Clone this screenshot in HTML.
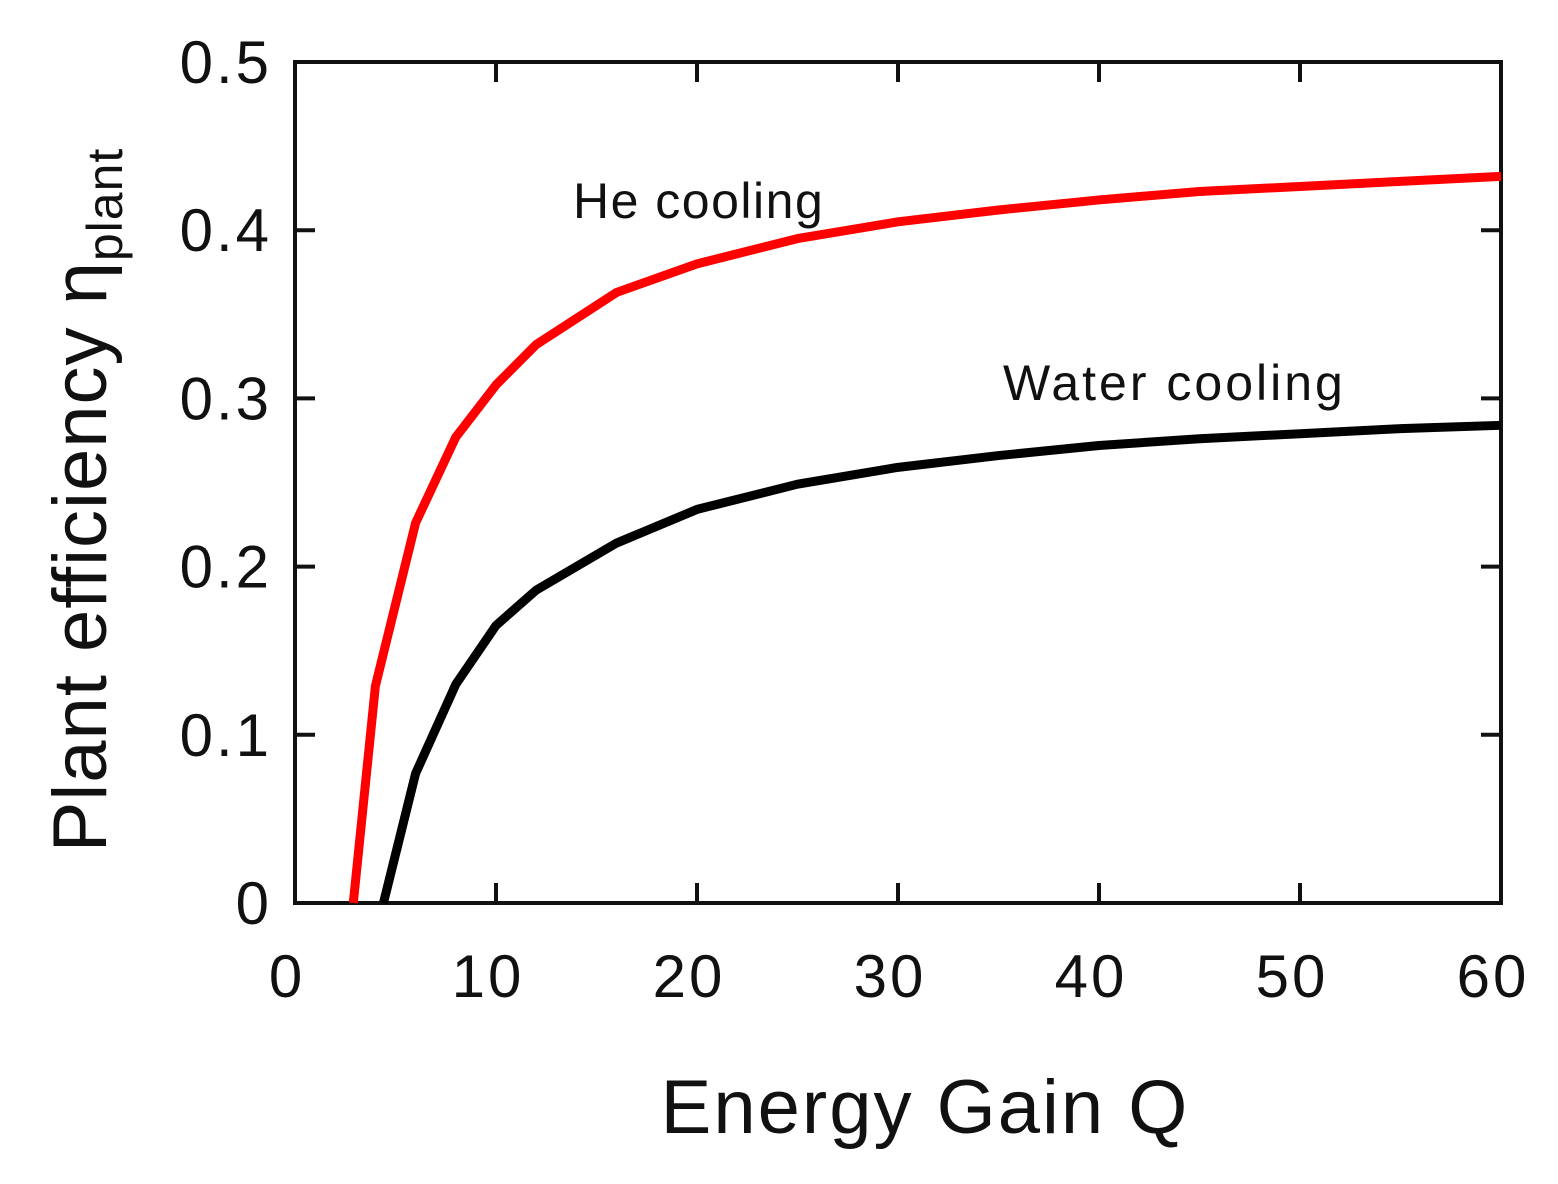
<!DOCTYPE html>
<html><head><meta charset="utf-8"><style>
html,body{margin:0;padding:0;background:#fff;}
svg{display:block;font-family:"Liberation Sans",sans-serif;}
</style></head><body>
<svg id="chart" width="1558" height="1184" viewBox="0 0 1558 1184">
<g id="axes"></g>
<g id="series"></g>
<text x="573" y="218" font-size="50" letter-spacing="1.5" fill="#111">He cooling</text>
<text x="1003" y="400" font-size="50" letter-spacing="3" fill="#111">Water cooling</text>
<text x="925" y="1133" font-size="76" letter-spacing="2" text-anchor="middle" fill="#111">Energy Gain Q</text>
<text transform="translate(106,500) rotate(-90)" font-size="76" letter-spacing="1" text-anchor="middle" fill="#111">Plant efficiency η<tspan font-size="50" dy="16">plant</tspan></text>
</svg>
<script>
const xTicks=[0,10,20,30,40,50,60];
const yTicks=[0,0.1,0.2,0.3,0.4,0.5];
const yTickLabels=["0","0.1","0.2","0.3","0.4","0.5"];
const heQ=[2.9,4,6,8,10,12,16,20,25,30,35,40,45,50,55,60];
const heEta=[0,0.129,0.226,0.277,0.308,0.332,0.363,0.38,0.395,0.405,0.412,0.418,0.423,0.426,0.429,0.432];
const waterQ=[4.4,6,8,10,12,16,20,25,30,35,40,45,50,55,60];
const waterEta=[0,0.077,0.13,0.165,0.186,0.214,0.234,0.249,0.259,0.266,0.272,0.276,0.279,0.282,0.284];
const L=295,R=1501,T=62,B=903;
const x=v=>L+(R-L)*v/60, y=v=>B-(B-T)*v/0.5;
const NS="http://www.w3.org/2000/svg";
const ax=document.getElementById('axes'), se=document.getElementById('series');
function mk(tag,attrs,parent){const e=document.createElementNS(NS,tag);for(const k in attrs)e.setAttribute(k,attrs[k]);parent.appendChild(e);return e;}
const fr=mk('rect',{x:L,y:T,width:R-L,height:B-T,fill:'none',stroke:'#111','stroke-width':4},ax);


xTicks.forEach(v=>{
  const t=mk('path',{d:`M${x(v)},${B}v-20M${x(v)},${T}v20`,stroke:'#111','stroke-width':4},ax);
  
  
  const l=mk('text',{x:x(v)-8,y:997,'font-size':60,'letter-spacing':3,'text-anchor':'middle',fill:'#111'},ax);
  
  
  l.textContent=v;
});
yTicks.forEach((v,i)=>{
  const t=mk('path',{d:`M${L},${y(v)}h20M${R},${y(v)}h-20`,stroke:'#111','stroke-width':4},ax);
  
  
  const l=mk('text',{x:272,y:y(v)+21,'font-size':60,'letter-spacing':3,'text-anchor':'end',fill:'#111'},ax);
  
  
  l.textContent=yTickLabels[i];
});
function line(qs,es,col,name){
  const p=mk('polyline',{points:qs.map((q,i)=>x(q)+','+y(es[i])).join(' '),fill:'none',stroke:col,'stroke-width':9,'stroke-linejoin':'round'},se);
  
  
}
line(heQ,heEta,'#f00','he-cooling-line');
line(waterQ,waterEta,'#000','water-cooling-line');
</script>
</body></html>
